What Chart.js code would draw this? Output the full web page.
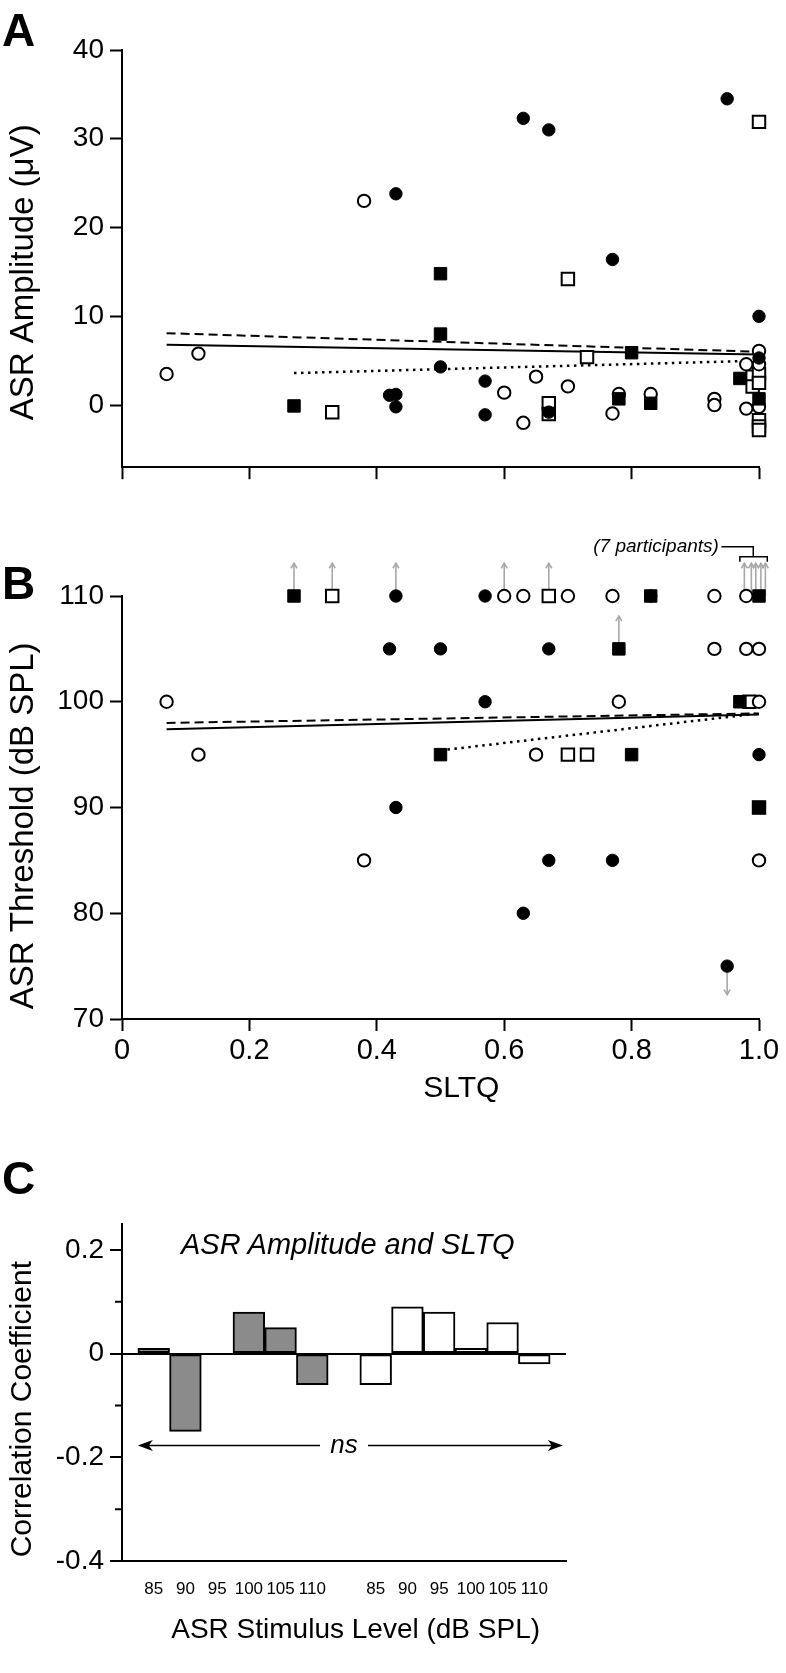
<!DOCTYPE html>
<html>
<head>
<meta charset="utf-8">
<script src="https://cdn.jsdelivr.net/npm/chart.js@4.4.1/dist/chart.umd.min.js"></script>
<style>
  body { margin: 0; background: #fff; }
  #page { position: relative; width: 786px; height: 1673px; font-family: "Liberation Sans", Arial, sans-serif; color: #000; }
  #page canvas { position: absolute; left: 0; }
  .panel-label { position: absolute; font-weight: bold; font-size: 46px; line-height: 46px; }
  .inset-title { position: absolute; font-style: italic; font-size: 29px; line-height: 29px; white-space: nowrap; }
</style>
</head>
<body>
<div id="page">
  <canvas id="chartA" width="786" height="490" style="top:0px"></canvas>
  <canvas id="chartB" width="786" height="620" style="top:490px"></canvas>
  <canvas id="chartC" width="786" height="563" style="top:1110px"></canvas>
  <div class="panel-label" style="left:2px; top:7px">A</div>
  <div class="panel-label" style="left:2px; top:560px">B</div>
  <div class="panel-label" style="left:2px; top:1155px">C</div>
  <div class="inset-title" style="left:181px; top:1230px">ASR Amplitude and SLTQ</div>
</div>

<script>
Chart.defaults.font.family = '"Liberation Sans", Arial, Helvetica, sans-serif';
Chart.defaults.color = '#000';

// tick values
const sltqTicks = [0, 0.2, 0.4, 0.6, 0.8, 1.0];
const ampTicks = [0, 10, 20, 30, 40];
const thrTicks = [70, 80, 90, 100, 110];
const corrTicks = [-0.4, -0.3, -0.2, -0.1, 0, 0.1, 0.2];

// Panel A: ASR amplitude (uV) against SLTQ, [sltq, amplitude]
const ampFilledCircles = [[0.42, 1.1], [0.43, 1.2], [0.43, -0.2], [0.43, 23.8], [0.50, 4.3], [0.57, 2.7],
  [0.57, -1.1], [0.63, 32.3], [0.67, 31.0], [0.67, -0.8], [0.77, 16.4], [0.95, 34.5], [1.0, 10.0], [1.0, 5.3]];
const ampOpenCircles = [[0.07, 3.5], [0.12, 5.8], [0.38, 23.0], [0.60, 1.4], [0.63, -2.0], [0.65, 3.2],
  [0.70, 2.1], [0.77, -0.95], [0.78, 1.25], [0.83, 1.25], [0.93, 0.7], [0.93, 0.0], [0.98, 4.6],
  [0.98, -0.4], [1.0, 6.1], [1.0, 4.6], [1.0, -0.2]];
const ampFilledSquares = [[0.27, -0.1], [0.50, 14.8], [0.50, 8.0], [0.78, 0.7], [0.80, 5.9], [0.83, 0.2],
  [0.97, 3.0], [1.0, 0.7]];
const ampOpenSquares = [[0.33, -0.8], [0.67, 0.2], [0.67, -1.0], [0.70, 14.2], [0.73, 5.4], [0.99, 3.2],
  [0.99, 2.1], [1.0, 31.9], [1.0, 3.5], [1.0, 2.5], [1.0, -1.7], [1.0, -2.4], [1.0, -2.8]];
const ampFitSolid = [[0.07, 6.8], [1.0, 5.7]];
const ampFitDashed = [[0.07, 8.1], [1.0, 6.0]];
const ampFitDotted = [[0.27, 3.6], [1.0, 5.0]];

// Panel B: ASR threshold (dB SPL) against SLTQ, [sltq, threshold]
const thrFilledCircles = [[0.43, 110], [0.42, 105], [0.50, 105], [0.43, 90], [0.57, 110], [0.57, 100],
  [0.67, 105], [0.83, 110], [1.0, 95], [0.67, 85], [0.77, 85], [0.63, 80], [0.95, 75]];
const thrOpenCircles = [[0.07, 100], [0.12, 95], [0.38, 85], [0.60, 110], [0.63, 110], [0.70, 110],
  [0.77, 110], [0.93, 110], [0.98, 110], [0.78, 100], [0.93, 105], [0.98, 105], [1.0, 105], [0.65, 95],
  [1.0, 85], [1.0, 100]];
const thrFilledSquares = [[0.27, 110], [0.83, 110], [1.0, 110], [0.78, 105], [0.97, 100], [0.50, 95],
  [0.80, 95], [1.0, 90]];
const thrOpenSquares = [[0.33, 110], [0.67, 110], [0.70, 95], [0.73, 95], [0.985, 100], [1.0, 90]];
const thrFitSolid = [[0.07, 97.4], [1.0, 98.8]];
const thrFitDashed = [[0.07, 98.0], [1.0, 98.9]];
const thrFitDotted = [[0.50, 95.4], [1.0, 98.9]];
// thresholds outside the tested range (arrows)
const thrAbove = [[0.27, 110], [0.33, 110], [0.43, 110], [0.60, 110], [0.67, 110], [0.78, 105],
  [0.977, 110], [0.988, 110], [0.995, 110], [1.003, 110], [1.01, 110]];
const thrBelow = [[0.95, 75]];

// Panel C: correlation coefficient per stimulus level
const stimLevels = ['85', '90', '95', '100', '105', '110'];
const corrGray = [0.01, -0.15, 0, 0.08, 0.05, -0.06];
const corrWhite = [-0.06, 0.09, 0.08, 0.01, 0.06, -0.02];

function toPoints(arr) {
  return arr.map(p => ({ x: p[0], y: p[1] }));
}

function markerSet(data, style, filled) {
  return {
    type: 'scatter',
    data: toPoints(data),
    pointStyle: style,
    pointRadius: style === 'rect' ? 8.8 : 6.2,
    pointBackgroundColor: filled ? '#000' : '#fff',
    pointBorderColor: '#000',
    pointBorderWidth: filled ? 1 : 2,
    clip: false
  };
}

function fitLine(data, dash, width) {
  return {
    type: 'line',
    data: toPoints(data),
    borderColor: '#000',
    borderWidth: width || 2,
    borderDash: dash,
    pointRadius: 0,
    fill: false,
    clip: false
  };
}

function sltqAxis(showLabels) {
  return {
    type: 'linear', min: 0, max: 1,
    afterBuildTicks: s => { s.ticks = sltqTicks.map(v => ({ value: v })); },
    afterFit: s => { s.height = showLabels ? 91 : 16; },
    grid: { drawOnChartArea: false, tickLength: 12, tickWidth: 2, tickColor: '#000' },
    border: { color: '#000', width: 2 },
    ticks: { display: showLabels, padding: 3, font: { size: 29 }, maxRotation: 0,
      callback: v => v === 0 ? '0' : v.toFixed(1) },
    // leading spaces nudge the title a little right of centre, as in the figure
    title: { display: showLabels, text: '     SLTQ', font: { size: 30 }, padding: { top: 0, bottom: 3 } }
  };
}

function valueAxis(min, max, tickVals, title, fmt) {
  return {
    type: 'linear', min: min, max: max,
    afterBuildTicks: s => { s.ticks = tickVals.map(v => ({ value: v })); },
    afterFit: s => { s.width = 122; },
    grid: { drawOnChartArea: false, tickLength: 12, tickWidth: 2, tickColor: '#000' },
    border: { color: '#000', width: 2 },
    ticks: { padding: 6, font: { size: 28 }, callback: fmt || (v => String(v)) },
    title: { display: true, text: title, font: { size: 33 }, padding: { top: 4, bottom: 0 } }
  };
}

function drawArrow(ctx, x, y1, y2, head) {
  const dir = Math.sign(y2 - y1);
  ctx.beginPath();
  ctx.moveTo(x, y1);
  ctx.lineTo(x, y2);
  ctx.stroke();
  ctx.beginPath();
  ctx.moveTo(x - head * 0.6, y2 - dir * head);
  ctx.lineTo(x, y2);
  ctx.lineTo(x + head * 0.6, y2 - dir * head);
  ctx.stroke();
}

const baseOptions = {
  responsive: false,
  animation: false,
  events: [],
  plugins: { legend: { display: false }, tooltip: { enabled: false } }
};

// ---- Panel A
new Chart(document.getElementById('chartA'), {
  type: 'scatter',
  data: {
    datasets: [
      markerSet(ampFilledSquares, 'rect', true),
      markerSet(ampFilledCircles, 'circle', true),
      markerSet(ampOpenCircles, 'circle', false),
      markerSet(ampOpenSquares, 'rect', false),
      fitLine(ampFitSolid, []),
      fitLine(ampFitDashed, [9, 5]),
      fitLine(ampFitDotted, [2.5, 4.5], 2.5)
    ]
  },
  options: Object.assign({}, baseOptions, {
    layout: { padding: { top: 50, right: 27, left: 0, bottom: 0 } },
    scales: {
      x: sltqAxis(false),
      y: valueAxis(-7, 40, ampTicks, 'ASR Amplitude (μV)   ')
    }
  })
});

// ---- Panel B
const censorArrows = {
  id: 'censorArrows',
  beforeDatasetsDraw(chart) {
    const { ctx, scales: { x, y } } = chart;
    ctx.save();
    ctx.strokeStyle = '#a8a8a8';
    ctx.lineWidth = 1.6;
    thrAbove.forEach(p => drawArrow(ctx, x.getPixelForValue(p[0]), y.getPixelForValue(p[1]), y.getPixelForValue(p[1] + 3.1), 5));
    thrBelow.forEach(p => drawArrow(ctx, x.getPixelForValue(p[0]), y.getPixelForValue(p[1]), y.getPixelForValue(p[1] - 2.7), 5));
    ctx.restore();
  },
  afterDatasetsDraw(chart) {
    const { ctx, scales: { x, y } } = chart;
    const px = v => x.getPixelForValue(v);
    const py = v => y.getPixelForValue(v);
    ctx.save();
    ctx.font = 'italic 19px "Liberation Sans", Arial, sans-serif';
    ctx.textAlign = 'right';
    ctx.textBaseline = 'middle';
    ctx.fillStyle = '#000';
    ctx.fillText('(7 participants)', px(0.937), py(114.66));
    ctx.strokeStyle = '#000';
    ctx.lineWidth = 1.5;
    ctx.beginPath();
    ctx.moveTo(px(0.941), py(114.66));
    ctx.lineTo(px(0.991), py(114.66));
    ctx.lineTo(px(0.991), py(113.72));
    ctx.moveTo(px(0.970), py(113.25));
    ctx.lineTo(px(0.970), py(113.72));
    ctx.lineTo(px(1.013), py(113.72));
    ctx.lineTo(px(1.013), py(113.25));
    ctx.stroke();
    ctx.restore();
  }
};

new Chart(document.getElementById('chartB'), {
  type: 'scatter',
  data: {
    datasets: [
      markerSet(thrFilledSquares, 'rect', true),
      markerSet(thrFilledCircles, 'circle', true),
      markerSet(thrOpenCircles, 'circle', false),
      markerSet(thrOpenSquares, 'rect', false),
      fitLine(thrFitSolid, []),
      fitLine(thrFitDashed, [9, 5]),
      fitLine(thrFitDotted, [2.5, 4.5], 2.5)
    ]
  },
  options: Object.assign({}, baseOptions, {
    layout: { padding: { top: 106, right: 27, left: 0, bottom: 0 } },
    scales: {
      x: sltqAxis(true),
      y: valueAxis(70, 110, thrTicks, 'ASR Threshold (dB SPL)    ')
    }
  }),
  plugins: [censorArrows]
});

// ---- Panel C
const corrLabels = [''].concat(stimLevels, [''], stimLevels, ['']);
const grayData = [null].concat(corrGray, [null], stimLevels.map(() => null), [null]);
const whiteData = [null].concat(stimLevels.map(() => null), [null], corrWhite, [null]);
const isMajor = v => Math.round(v * 10) % 2 === 0;

const nsArrow = {
  id: 'nsArrow',
  afterDatasetsDraw(chart) {
    const { ctx, scales: { x, y } } = chart;
    const yy = y.getPixelForValue(-0.177);
    const x1 = x.getPixelForValue(0.5);
    const x2 = x.getPixelForValue(13.9);
    const xm = x.getPixelForValue(7);
    ctx.save();
    ctx.strokeStyle = '#000';
    ctx.fillStyle = '#000';
    ctx.lineWidth = 1.5;
    ctx.beginPath();
    ctx.moveTo(x1 + 6, yy);
    ctx.lineTo(xm - 24, yy);
    ctx.moveTo(xm + 24, yy);
    ctx.lineTo(x2 - 6, yy);
    ctx.stroke();
    [[x1, 1], [x2, -1]].forEach(([tip, d]) => {
      ctx.beginPath();
      ctx.moveTo(tip, yy);
      ctx.lineTo(tip + d * 15, yy - 5.5);
      ctx.lineTo(tip + d * 11, yy);
      ctx.lineTo(tip + d * 15, yy + 5.5);
      ctx.closePath();
      ctx.fill();
    });
    ctx.font = 'italic 26px "Liberation Sans", Arial, sans-serif';
    ctx.textAlign = 'center';
    ctx.textBaseline = 'middle';
    ctx.fillText('ns', xm, yy);

    // shorter tick marks for the unlabelled steps
    ctx.lineWidth = 2;
    ctx.beginPath();
    y.ticks.forEach(t => {
      if (isMajor(t.value)) return;
      const ty = y.getPixelForValue(t.value);
      ctx.moveTo(y.right - 7, ty);
      ctx.lineTo(y.right, ty);
    });
    ctx.stroke();
    ctx.restore();
  }
};

function corrBars(data, color) {
  return {
    data: data,
    backgroundColor: color,
    borderColor: '#000',
    borderWidth: 2,
    borderSkipped: false,
    barPercentage: 1,
    categoryPercentage: 1,
    grouped: false
  };
}

new Chart(document.getElementById('chartC'), {
  type: 'bar',
  data: {
    labels: corrLabels,
    datasets: [corrBars(grayData, '#8b8b8b'), corrBars(whiteData, '#fff')]
  },
  options: Object.assign({}, baseOptions, {
    layout: { padding: { top: 114, right: 220, left: 0, bottom: 0 } },
    scales: {
      x: {
        type: 'category',
        offset: false,
        afterFit: s => { s.height = 112; },
        grid: { display: false },
        border: { color: '#000', width: 2 },
        ticks: { autoSkip: false, maxRotation: 0, padding: 10, font: { size: 17 } },
        title: { display: true, text: '   ASR Stimulus Level (dB SPL)', font: { size: 28 },
          padding: { top: 0, bottom: 26 } }
      },
      y: {
        type: 'linear', min: -0.4, max: 0.25,
        afterBuildTicks: s => { s.ticks = corrTicks.map(v => ({ value: v })); },
        afterFit: s => { s.width = 122; },
        grid: {
          drawOnChartArea: true,
          color: c => (c.tick && Math.abs(c.tick.value) < 1e-9) ? '#000' : 'rgba(0,0,0,0)',
          lineWidth: 2, tickLength: 12, tickWidth: 2,
          tickColor: c => (c.tick && isMajor(c.tick.value)) ? '#000' : 'rgba(0,0,0,0)'
        },
        border: { color: '#000', width: 2 },
        ticks: {
          padding: 6, font: { size: 28 },
          callback: v => {
            if (!isMajor(v)) return '';
            return Math.abs(v) < 1e-9 ? '0' : v.toFixed(1);
          }
        },
        title: { display: true, text: 'Correlation Coefficient    ', font: { size: 30 }, padding: { top: 5, bottom: 0 } }
      }
    }
  }),
  plugins: [nsArrow]
});
</script>
</body>
</html>
